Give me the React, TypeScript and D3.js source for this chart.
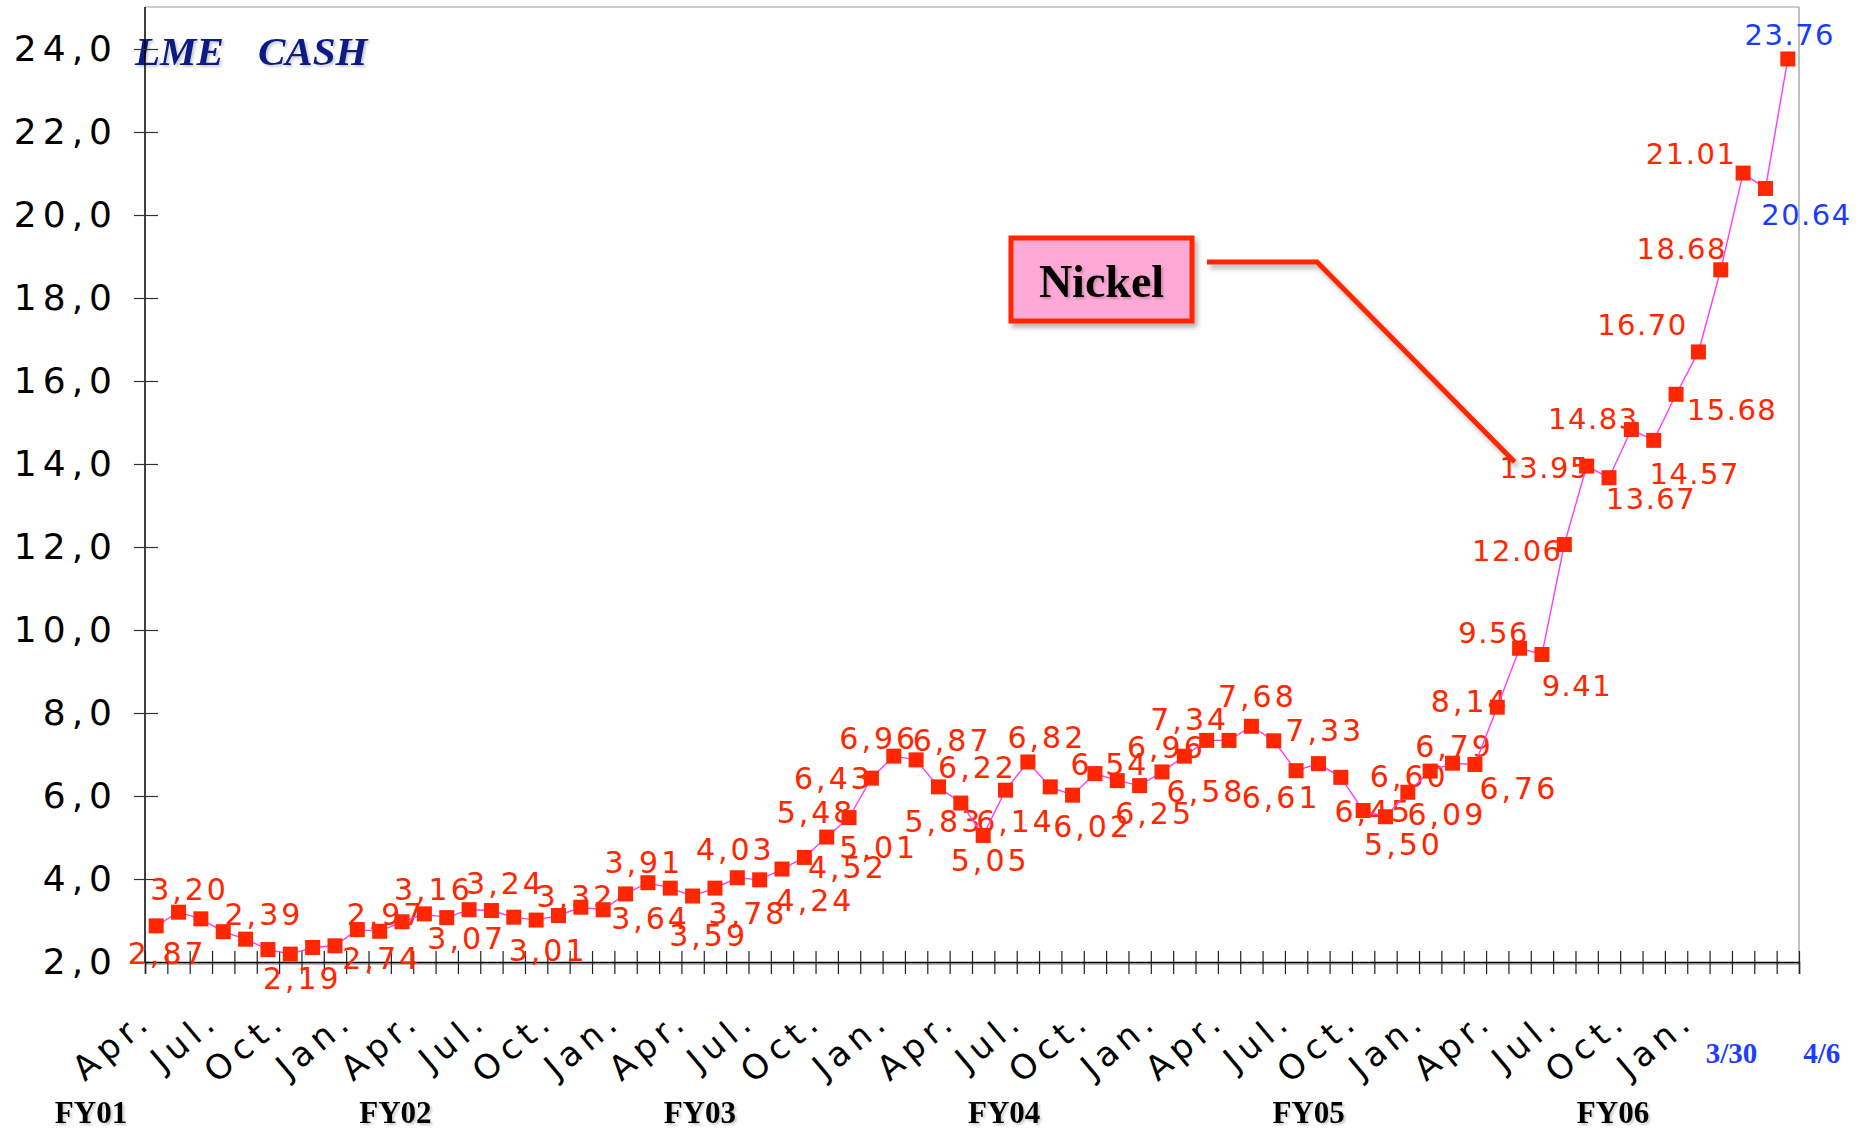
import { useEffect, useRef } from 'react'
import * as d3 from 'd3'

// Monthly LME cash nickel (US$/lb), Apr 2001 .. Mar 2007, then two weekly quotes
const PERIODS = [
  '2001-04', '2001-05', '2001-06', '2001-07', '2001-08', '2001-09', '2001-10', '2001-11', '2001-12', '2002-01', '2002-02', '2002-03',
  '2002-04', '2002-05', '2002-06', '2002-07', '2002-08', '2002-09', '2002-10', '2002-11', '2002-12', '2003-01', '2003-02', '2003-03',
  '2003-04', '2003-05', '2003-06', '2003-07', '2003-08', '2003-09', '2003-10', '2003-11', '2003-12', '2004-01', '2004-02', '2004-03',
  '2004-04', '2004-05', '2004-06', '2004-07', '2004-08', '2004-09', '2004-10', '2004-11', '2004-12', '2005-01', '2005-02', '2005-03',
  '2005-04', '2005-05', '2005-06', '2005-07', '2005-08', '2005-09', '2005-10', '2005-11', '2005-12', '2006-01', '2006-02', '2006-03',
  '2006-04', '2006-05', '2006-06', '2006-07', '2006-08', '2006-09', '2006-10', '2006-11', '2006-12', '2007-01', '2007-02', '2007-03',
  '2007-03-30', '2007-04-06',
]

const NICKEL = [
  2.87, 3.20, 3.04, 2.73, 2.55, 2.30, 2.19, 2.35, 2.39, 2.78, 2.74, 2.97,
  3.16, 3.07, 3.26, 3.24, 3.08, 3.01, 3.12, 3.32, 3.26, 3.64, 3.91, 3.78,
  3.59, 3.78, 4.03, 3.98, 4.24, 4.52, 5.01, 5.48, 6.43, 6.96, 6.87, 6.22,
  5.83, 5.05, 6.14, 6.82, 6.22, 6.02, 6.54, 6.37, 6.25, 6.58, 6.96, 7.34,
  7.34, 7.68, 7.33, 6.61, 6.78, 6.45, 5.65, 5.50, 6.09, 6.60, 6.79, 6.76,
  8.14, 9.56, 9.41, 12.06, 13.95, 13.67, 14.83, 14.57, 15.68, 16.70, 18.68, 21.01,
  20.64, 23.76,
]

// [point index, printed label]
const VALUE_LABELS: [number, string][] = [
  [0, '2,87'], [1, '3,20'], [5, '2,39'], [6, '2,19'], [10, '2,74'], [11, '2,97'],
  [12, '3,16'], [13, '3,07'], [15, '3,24'], [17, '3,01'], [19, '3,32'], [21, '3,64'],
  [22, '3,91'], [24, '3,59'], [25, '3,78'], [26, '4,03'], [28, '4,24'], [29, '4,52'],
  [30, '5,01'], [31, '5,48'], [32, '6,43'], [33, '6,96'], [34, '6,87'], [35, '6,22'],
  [36, '5,83'], [37, '5,05'], [38, '6,14'], [39, '6,82'], [41, '6,02'], [42, '6,54'],
  [44, '6,25'], [45, '6,58'], [46, '6,96'], [47, '7,34'], [49, '7,68'], [50, '7,33'],
  [51, '6,61'], [53, '6,45'], [55, '5,50'], [56, '6,09'], [57, '6,60'], [58, '6,79'],
  [59, '6,76'], [60, '8,14'], [61, '9.56'], [62, '9.41'], [63, '12.06'], [64, '13.95'],
  [65, '13.67'], [66, '14.83'], [67, '14.57'], [68, '15.68'], [69, '16.70'], [70, '18.68'],
  [71, '21.01'], [72, '20.64'], [73, '23.76'],
]
const LATEST = [72, 73] // weekly quotes printed in blue

const Y_TICKS = [2, 4, 6, 8, 10, 12, 14, 16, 18, 20, 22, 24]
const QUARTER_NAMES = ['Apr.', 'Jul.', 'Oct.', 'Jan.']
const FY_LABELS = ['FY01', 'FY02', 'FY03', 'FY04', 'FY05', 'FY06']
const WEEK_LABELS: [number, string][] = [[72, '3/30'], [73, '4/6']]

// label placement relative to its marker (layout only)
const LABEL_OFFSETS: Record<number, [number, number]> = {
  0: [9, 28], 1: [9, -23], 5: [-6, -35], 6: [10, 24], 10: [0, 27], 11: [-18, -7],
  12: [7, -24], 13: [18, 21], 15: [12, -27], 17: [10, 30], 19: [-7, -11], 21: [23, 25],
  22: [-6, -20], 24: [14, 39], 25: [31, 25], 26: [-4, -28], 28: [31, 31], 29: [41, 10],
  30: [50, 10], 31: [-35, -5], 32: [-40, 0], 33: [-17, -18], 34: [34, -19], 35: [37, -19],
  36: [-19, 18], 37: [5, 25], 38: [8, 31], 39: [17, -24], 41: [18, 31], 42: [13, -9],
  44: [13, 28], 45: [42, 20], 46: [-20, -9], 47: [-19, -21], 49: [4, -30], 50: [49, -10],
  51: [-17, 27], 53: [31, 34], 55: [16, 28], 56: [37, 22], 57: [-23, 5], 58: [0, -17],
  59: [42, 24], 60: [-29, -6], 61: [-28, -15], 62: [33, 32], 63: [-49, 6], 64: [-44, 2],
  65: [40, 21], 66: [-40, -11], 67: [39, 34], 68: [54, 16], 69: [-58, -27], 70: [-41, -21],
  71: [-54, -19], 72: [39, 27], 73: [0, -24],
}

const W = 1865
const H = 1132
const RED = '#ff2600'
const SANS = '"DejaVu Sans", Verdana, sans-serif'
const SERIF = '"Liberation Serif", "Times New Roman", serif'

export default function App() {
  const svgRef = useRef<SVGSVGElement>(null)

  useEffect(() => {
    const node = svgRef.current
    if (!node) return
    const svg = d3.select(node)
    svg.selectAll('*').remove()

    const left = 145, right = 1799, top = 7, bottom = 962

    const defs = svg.append('defs')
    const sh = defs.append('filter').attr('id', 'shadow')
      .attr('x', '-20%').attr('y', '-20%').attr('width', '140%').attr('height', '160%')
    sh.append('feDropShadow').attr('dx', 3).attr('dy', 4).attr('stdDeviation', 2.5)
      .attr('flood-color', '#000').attr('flood-opacity', 0.3)
    const tsh = defs.append('filter').attr('id', 'tshadow')
    tsh.append('feDropShadow').attr('dx', 2).attr('dy', 2).attr('stdDeviation', 1)
      .attr('flood-color', '#000').attr('flood-opacity', 0.2)
    defs.append('clipPath').attr('id', 'pageclip')
      .append('rect').attr('x', 0).attr('y', 0).attr('width', 1851).attr('height', H)

    const x = d3.scaleBand<number>().domain(d3.range(PERIODS.length)).range([left, right])
    const edges = d3.scaleLinear().domain([0, PERIODS.length]).range([left, right])
    const y = d3.scaleLinear().domain([2, 24]).range([bottom, 49])
    const cx = (i: number) => (x(i) ?? 0) + x.bandwidth() / 2

    // title
    const title = svg.append('g').attr('filter', 'url(#tshadow)')
      .attr('font-family', SERIF).attr('font-weight', 'bold').attr('font-style', 'italic')
      .attr('font-size', 41).attr('fill', '#0c1a84')
    title.append('text').attr('x', 135).attr('y', 65).text('LME')
    title.append('text').attr('x', 258).attr('y', 65).text('CASH')

    // frame
    svg.append('line').attr('x1', left).attr('x2', right).attr('y1', top).attr('y2', top)
      .attr('stroke', '#bdbdbd').attr('stroke-width', 1.5)
    svg.append('line').attr('x1', right).attr('x2', right).attr('y1', top).attr('y2', bottom)
      .attr('stroke', '#aaaaaa').attr('stroke-width', 1.5)

    // Y axis
    svg.append('g')
      .attr('transform', `translate(${left},0)`)
      .call(d3.axisLeft(y).tickValues(Y_TICKS).tickSize(11).tickPadding(16)
        .tickFormat(d => (d as number).toFixed(1).replace('.', ',')))
      .call(ax => {
        ax.attr('font-family', SANS).attr('font-size', 36).style('letter-spacing', '6px')
        ax.select('.domain').attr('stroke', '#000').attr('stroke-width', 1.5).attr('d', `M0,${top}V${bottom}`)
        ax.selectAll('.tick line').attr('x1', -11).attr('x2', 13).attr('stroke', '#333').attr('stroke-width', 1.2)
        ax.selectAll('.tick text').attr('fill', '#000')
      })

    // X axis (ticks at month boundaries)
    const xa = svg.append('g').attr('transform', `translate(0,${bottom})`)
    xa.append('line').attr('x1', left).attr('x2', right).attr('y1', 2).attr('y2', 2)
      .attr('stroke', '#bbb').attr('stroke-width', 2)
    xa.call(d3.axisBottom(edges).tickValues(d3.range(PERIODS.length + 1)).tickSize(12).tickFormat(() => ''))
      .call(ax => {
        ax.select('.domain').attr('stroke', '#000').attr('stroke-width', 1.5)
        ax.selectAll('.tick line').attr('y1', -11).attr('stroke', '#222').attr('stroke-width', 1.2)
      })

    // month labels every quarter
    const monthIdx = d3.range(0, 72, 3)
    svg.append('g')
      .attr('font-family', SANS).attr('font-size', 34).style('letter-spacing', '6px')
      .selectAll('text').data(monthIdx).join('text')
      .attr('transform', i => `translate(${cx(i) - 2},${1024}) rotate(-40)`)
      .attr('text-anchor', 'end').attr('fill', '#000')
      .text(i => QUARTER_NAMES[(i / 3) % 4])

    // fiscal-year labels
    const fy = d3.scalePoint<string>().domain(FY_LABELS).range([91, 1613])
    svg.append('g').attr('filter', 'url(#tshadow)')
      .attr('font-family', SERIF).attr('font-weight', 'bold').attr('font-size', 31)
      .selectAll('text').data(FY_LABELS).join('text')
      .attr('x', d => fy(d) ?? 0).attr('y', 1123).attr('text-anchor', 'middle').attr('fill', '#000')
      .text(d => d)

    // weekly dates
    svg.append('g')
      .attr('font-family', SERIF).attr('font-weight', 'bold').attr('font-size', 29)
      .selectAll('text').data(WEEK_LABELS).join('text')
      .attr('x', ([i], k) => cx(i) + (k === 0 ? -34 : 34)).attr('y', 1063)
      .attr('text-anchor', 'middle').attr('fill', '#1f3dff')
      .text(d => d[1])

    // value labels (under line and markers); FY06 quotes use dot decimals
    const isDot = (t: string) => t.includes('.')
    svg.append('g').attr('clip-path', 'url(#pageclip)')
      .attr('font-family', SANS)
      .selectAll('text').data(VALUE_LABELS).join('text')
      .attr('x', ([i]) => cx(i) + (LABEL_OFFSETS[i]?.[0] ?? 0) + 2)
      .attr('y', ([i]) => y(NICKEL[i]) + (LABEL_OFFSETS[i]?.[1] ?? 0))
      .attr('font-size', ([, t]) => isDot(t) ? 29 : 30)
      .style('letter-spacing', ([, t]) => isDot(t) ? '1.5px' : '3px')
      .attr('dominant-baseline', 'central').attr('text-anchor', 'middle')
      .attr('fill', ([i]) => LATEST.includes(i) ? '#1a3cff' : RED)
      .text(d => d[1])

    // price line
    const line = d3.line<number>().x((_, i) => cx(i)).y(d => y(d))
    svg.append('path').attr('d', line(NICKEL) ?? '')
      .attr('fill', 'none').attr('stroke', '#ff3cff').attr('stroke-width', 1.4)

    // markers
    const ms = 15
    svg.append('g').selectAll('rect').data(NICKEL).join('rect')
      .attr('x', (_, i) => cx(i) - ms / 2).attr('y', d => y(d) - ms / 2)
      .attr('width', ms).attr('height', ms).attr('fill', RED)

    // Nickel callout
    const bx = 1011, by = 238, bw = 181, bh = 83
    svg.append('path')
      .attr('d', `M${bx + bw + 15},262H1317L${cx(64) - 72},${y(NICKEL[64]) - 4}`)
      .attr('fill', 'none').attr('stroke', RED).attr('stroke-width', 5).attr('filter', 'url(#shadow)')
    svg.append('rect').attr('x', bx).attr('y', by).attr('width', bw).attr('height', bh)
      .attr('fill', '#ffaad6').attr('stroke', RED).attr('stroke-width', 5).attr('filter', 'url(#shadow)')
    svg.append('text').attr('x', bx + bw / 2).attr('y', by + 59)
      .attr('text-anchor', 'middle').attr('font-family', SERIF).attr('font-weight', 'bold')
      .attr('font-size', 46).attr('fill', '#000').attr('filter', 'url(#tshadow)')
      .text('Nickel')
  }, [])

  return (
    <div style={{ position: 'absolute', left: 0, top: 0, background: '#fff' }}>
      <svg ref={svgRef} width={W} height={H} style={{ display: 'block', background: '#fff' }} />
    </div>
  )
}
